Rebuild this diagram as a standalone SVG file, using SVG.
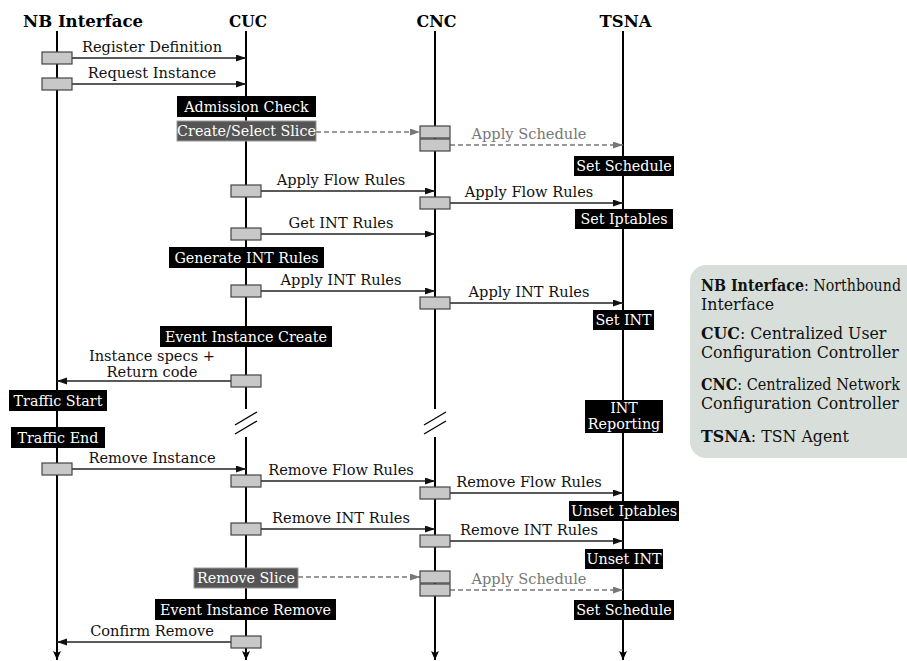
<svg xmlns="http://www.w3.org/2000/svg" width="907" height="661" viewBox="0 0 907 661">
  <defs>
    <marker id="ah" markerUnits="userSpaceOnUse" markerWidth="11" markerHeight="8" refX="10" refY="3.5" orient="auto">
      <path d="M0,0 L10,3.5 L0,7 z" fill="#111"/>
    </marker>
    <marker id="ahg" markerUnits="userSpaceOnUse" markerWidth="11" markerHeight="8" refX="10" refY="3.5" orient="auto">
      <path d="M0,0 L10,3.5 L0,7 z" fill="#777"/>
    </marker>
    <marker id="llh" markerUnits="userSpaceOnUse" markerWidth="9" markerHeight="10" refX="4" refY="9" orient="0">
      <path d="M0,0 L4,9 L8,0 L4,2 z" fill="#000"/>
    </marker>
    <style>
      text { font-family: "DejaVu Serif", "Liberation Serif", serif; }
      .hdr { font-size: 17px; font-weight: bold; text-anchor: middle; fill: #000; }
      .ll { stroke: #000; stroke-width: 2; fill: none; }
      .lla { stroke: #000; stroke-width: 2; fill: none; marker-end: url(#llh); }
      .act { fill: #c8c8c8; stroke: #444; stroke-width: 1.2; }
      .msg { stroke: #222; stroke-width: 1.3; fill: none; marker-end: url(#ah); }
      .dmsg { stroke: #777; stroke-width: 1.3; stroke-dasharray: 5 3; fill: none; marker-end: url(#ahg); }
      .lbl { font-size: 14.6px; text-anchor: middle; fill: #111; }
      .glbl { font-size: 14.6px; text-anchor: middle; fill: #777; }
      .tag { fill: #000; }
      .gtag { fill: #555; stroke: #999; stroke-width: 1; }
      .tagt { font-size: 14.3px; text-anchor: middle; fill: #fff; }
      .brk { stroke: #000; stroke-width: 1.3; }
      .leg { fill: #d8dfda; }
      .legt { font-size: 15.8px; fill: #111; }
      .b { font-weight: bold; }
    </style>
  </defs>

  <!-- participants -->
  <g id="nb">
    <text class="hdr" x="83" y="27" textLength="120" lengthAdjust="spacingAndGlyphs">NB Interface</text>
    <line class="lla" x1="57" y1="31" x2="57" y2="660"/>
  </g>
  <g id="cuc">
    <text class="hdr" x="248" y="27" textLength="38" lengthAdjust="spacingAndGlyphs">CUC</text>
    <line class="ll" x1="246" y1="31" x2="246" y2="409"/>
    <line class="lla" x1="246" y1="437" x2="246" y2="660"/>
    <line class="brk" x1="235" y1="425" x2="257" y2="412"/>
    <line class="brk" x1="235" y1="434" x2="257" y2="421"/>
  </g>
  <g id="cnc">
    <text class="hdr" x="436.5" y="27" textLength="40" lengthAdjust="spacingAndGlyphs">CNC</text>
    <line class="ll" x1="435" y1="31" x2="435" y2="409"/>
    <line class="lla" x1="435" y1="437" x2="435" y2="660"/>
    <line class="brk" x1="424" y1="425" x2="446" y2="412"/>
    <line class="brk" x1="424" y1="434" x2="446" y2="421"/>
  </g>
  <g id="tsna">
    <text class="hdr" x="625.5" y="27" textLength="52" lengthAdjust="spacingAndGlyphs">TSNA</text>
    <line class="lla" x1="623" y1="31" x2="623" y2="660"/>
  </g>

  <!-- message arrows -->
  <g id="connectors">
    <line class="msg" x1="72" y1="58" x2="246" y2="58"/>
    <line class="msg" x1="72" y1="84" x2="246" y2="84"/>
    <line class="dmsg" x1="316" y1="132" x2="420" y2="132"/>
    <line class="dmsg" x1="450" y1="145" x2="623" y2="145"/>
    <line class="msg" x1="261" y1="191" x2="435" y2="191"/>
    <line class="msg" x1="450" y1="203" x2="623" y2="203"/>
    <line class="msg" x1="261" y1="234" x2="435" y2="234"/>
    <line class="msg" x1="261" y1="291" x2="435" y2="291"/>
    <line class="msg" x1="450" y1="303" x2="623" y2="303"/>
    <line class="msg" x1="231" y1="381" x2="57" y2="381"/>
    <line class="msg" x1="72" y1="469" x2="246" y2="469"/>
    <line class="msg" x1="261" y1="481" x2="435" y2="481"/>
    <line class="msg" x1="450" y1="493" x2="623" y2="493"/>
    <line class="msg" x1="261" y1="529" x2="435" y2="529"/>
    <line class="msg" x1="450" y1="541" x2="623" y2="541"/>
    <line class="dmsg" x1="298" y1="577" x2="420" y2="577"/>
    <line class="dmsg" x1="450" y1="590" x2="623" y2="590"/>
    <line class="msg" x1="231" y1="642" x2="57" y2="642"/>

    <text class="lbl" x="152" y="52">Register Definition</text>
    <text class="lbl" x="152" y="78">Request Instance</text>
    <text class="glbl" x="529" y="139">Apply Schedule</text>
    <text class="lbl" x="341" y="185">Apply Flow Rules</text>
    <text class="lbl" x="529" y="197">Apply Flow Rules</text>
    <text class="lbl" x="341" y="228">Get INT Rules</text>
    <text class="lbl" x="341" y="285">Apply INT Rules</text>
    <text class="lbl" x="529" y="297">Apply INT Rules</text>
    <text class="lbl" x="152" y="361">Instance specs +</text>
    <text class="lbl" x="152" y="377">Return code</text>
    <text class="lbl" x="152" y="463">Remove Instance</text>
    <text class="lbl" x="341" y="475">Remove Flow Rules</text>
    <text class="lbl" x="529" y="487">Remove Flow Rules</text>
    <text class="lbl" x="341" y="523">Remove INT Rules</text>
    <text class="lbl" x="529" y="535">Remove INT Rules</text>
    <text class="glbl" x="529" y="584">Apply Schedule</text>
    <text class="lbl" x="152" y="636">Confirm Remove</text>
  </g>

  <!-- activation bars -->
  <g id="activations">
    <rect class="act" x="42" y="52" width="30" height="12"/>
    <rect class="act" x="42" y="78" width="30" height="12"/>
    <rect class="act" x="420" y="126" width="30" height="12"/>
    <rect class="act" x="420" y="139" width="30" height="12"/>
    <rect class="act" x="231" y="185" width="30" height="12"/>
    <rect class="act" x="420" y="197" width="30" height="12"/>
    <rect class="act" x="231" y="228" width="30" height="12"/>
    <rect class="act" x="231" y="285" width="30" height="12"/>
    <rect class="act" x="420" y="297" width="30" height="12"/>
    <rect class="act" x="231" y="375" width="30" height="12"/>
    <rect class="act" x="42" y="463" width="30" height="12"/>
    <rect class="act" x="231" y="475" width="30" height="12"/>
    <rect class="act" x="420" y="487" width="30" height="12"/>
    <rect class="act" x="231" y="523" width="30" height="12"/>
    <rect class="act" x="420" y="535" width="30" height="12"/>
    <rect class="act" x="420" y="571" width="30" height="12"/>
    <rect class="act" x="420" y="584" width="30" height="12"/>
    <rect class="act" x="231" y="636" width="30" height="12"/>
  </g>

  <!-- state / event tags -->
  <g id="admission-check"><rect class="tag" x="177" y="96" width="139" height="21"/><text class="tagt" x="246.5" y="111.5">Admission Check</text></g>
  <g id="create-select-slice"><rect class="gtag" x="177" y="121" width="139" height="20"/><text class="tagt" x="246.5" y="136">Create/Select Slice</text></g>
  <g id="set-schedule-1"><rect class="tag" x="574" y="156" width="100" height="20"/><text class="tagt" x="624" y="171">Set Schedule</text></g>
  <g id="set-iptables"><rect class="tag" x="575" y="209" width="98" height="20"/><text class="tagt" x="624" y="224">Set Iptables</text></g>
  <g id="generate-int-rules"><rect class="tag" x="169" y="247" width="155" height="21"/><text class="tagt" x="246.5" y="262.5">Generate INT Rules</text></g>
  <g id="set-int"><rect class="tag" x="593" y="310" width="61" height="20"/><text class="tagt" x="623.5" y="325">Set INT</text></g>
  <g id="event-instance-create"><rect class="tag" x="160" y="326" width="172" height="21"/><text class="tagt" x="246" y="341.5">Event Instance Create</text></g>
  <g id="traffic-start"><rect class="tag" x="9" y="390" width="98" height="21"/><text class="tagt" x="58" y="405.5">Traffic Start</text></g>
  <g id="int-reporting"><rect class="tag" x="585" y="400" width="78" height="33"/><text class="tagt" x="624" y="413">INT</text><text class="tagt" x="624" y="429">Reporting</text></g>
  <g id="traffic-end"><rect class="tag" x="11" y="427" width="94" height="21"/><text class="tagt" x="58" y="442.5">Traffic End</text></g>
  <g id="unset-iptables"><rect class="tag" x="569" y="501" width="110" height="20"/><text class="tagt" x="624" y="516">Unset Iptables</text></g>
  <g id="unset-int"><rect class="tag" x="585" y="549" width="78" height="20"/><text class="tagt" x="624" y="564">Unset INT</text></g>
  <g id="remove-slice"><rect class="gtag" x="194" y="568" width="104" height="20"/><text class="tagt" x="246" y="583">Remove Slice</text></g>
  <g id="event-instance-remove"><rect class="tag" x="155" y="599" width="181" height="21"/><text class="tagt" x="245.5" y="614.5">Event Instance Remove</text></g>
  <g id="set-schedule-2"><rect class="tag" x="574" y="600" width="100" height="20"/><text class="tagt" x="624" y="615">Set Schedule</text></g>

  <!-- abbreviation legend, running off the right edge -->
  <g id="legend">
    <path class="leg" d="M706,265 H907 V458 H706 A16,16 0 0 1 690,442 V281 A16,16 0 0 1 706,265 Z"/>
    <text class="legt" x="701" y="291" textLength="200" lengthAdjust="spacingAndGlyphs"><tspan class="b">NB Interface</tspan>: Northbound</text>
    <text class="legt" x="701" y="310">Interface</text>
    <text class="legt" x="701" y="339"><tspan class="b">CUC</tspan>: Centralized User</text>
    <text class="legt" x="701" y="358">Configuration Controller</text>
    <text class="legt" x="701" y="390" textLength="199" lengthAdjust="spacingAndGlyphs"><tspan class="b">CNC</tspan>: Centralized Network</text>
    <text class="legt" x="701" y="409">Configuration Controller</text>
    <text class="legt" x="701" y="442"><tspan class="b">TSNA</tspan>: TSN Agent</text>
  </g>
</svg>
